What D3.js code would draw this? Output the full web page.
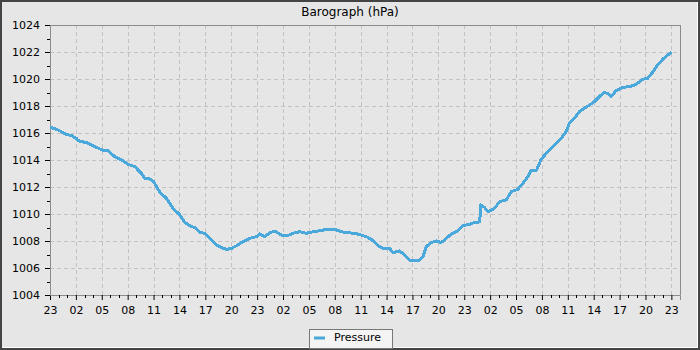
<!DOCTYPE html>
<html>
<head>
<meta charset="utf-8">
<script src="https://cdn.jsdelivr.net/npm/d3@7"></script>
<style>
  body { margin: 0; background: #e6e6e6; }
  svg { display: block; font-family: "DejaVu Sans", sans-serif; }
</style>
</head>
<body>
<div id="chart"></div>
<script>
// hours after the first 23:00 and pressure
const hoursFromStart = [0, 0.96, 1.74, 2.5, 3.05, 3.29, 4.44, 5.2, 6.06, 6.75, 7.5, 8.3, 9.06, 9.84,
  10.6, 11.0, 11.55, 12.0, 12.35, 12.74, 13.5, 14.27, 15.05, 15.63, 16.2, 16.79, 17.36, 17.94,
  18.53, 19.29, 19.88, 20.45, 21.03, 21.6, 22.38, 23.15, 23.93, 24.3, 24.89, 25.47, 26.04, 26.81,
  27.39, 28.16, 28.94, 29.7, 30.48, 31.25, 32.03, 32.99, 33.75, 34.52, 35.3, 36.08, 36.65, 37.23,
  37.62, 38.19, 38.78, 39.35, 39.74, 40.5, 41.09, 41.67, 42.24, 42.83, 43.22, 43.59, 44.18, 44.76,
  45.33, 45.92, 46.5, 47.25, 47.84, 48.62, 49.19, 49.58, 49.8, 49.9, 50.34, 50.73, 51.51, 52.08,
  52.86, 53.45, 54.21, 54.78, 55.37, 55.76, 56.34, 56.91, 57.68, 58.46, 59.24, 59.81, 60.18, 60.77,
  61.35, 61.92, 62.51, 63.08, 63.66, 64.16, 64.62, 65.01, 65.58, 66.36, 67.13, 67.91, 68.67, 69.26,
  69.83, 70.41, 71.0, 71.57, 72.03];
const pressure = [1016.44, 1016.22, 1015.93, 1015.8, 1015.6, 1015.43, 1015.24, 1014.99, 1014.74, 1014.67,
  1014.25, 1014.0, 1013.68, 1013.5, 1013.0, 1012.64, 1012.59, 1012.4, 1012.02, 1011.6, 1011.16,
  1010.42, 1009.93, 1009.38, 1009.13, 1008.99, 1008.64, 1008.57, 1008.2, 1007.7, 1007.5, 1007.38,
  1007.45, 1007.65, 1007.95, 1008.2, 1008.32, 1008.52, 1008.32, 1008.61, 1008.74, 1008.44, 1008.37,
  1008.57, 1008.69, 1008.57, 1008.69, 1008.76, 1008.86, 1008.86, 1008.69, 1008.61, 1008.57, 1008.44,
  1008.32, 1008.12, 1007.9, 1007.58, 1007.41, 1007.46, 1007.14, 1007.26, 1006.96, 1006.59, 1006.59,
  1006.59, 1006.84, 1007.58, 1007.88, 1008.0, 1007.88, 1008.2, 1008.52, 1008.76, 1009.13, 1009.24,
  1009.38, 1009.36, 1009.43, 1010.67, 1010.5, 1010.17, 1010.42, 1010.91, 1011.04, 1011.65, 1011.83,
  1012.27, 1012.77, 1013.26, 1013.21, 1014.05, 1014.61, 1015.11, 1015.6, 1016.1, 1016.72, 1017.09,
  1017.58, 1017.83, 1018.07, 1018.32, 1018.69, 1018.99, 1018.94, 1018.69, 1019.13, 1019.38, 1019.43,
  1019.6, 1019.98, 1020.05, 1020.5, 1021.04, 1021.46, 1021.78, 1021.98];
const yTicks = [1004, 1006, 1008, 1010, 1012, 1014, 1016, 1018, 1020, 1022, 1024];
const titleText = "Barograph (hPa)";
const seriesName = "Pressure";

const width = 700, height = 350;
const marginTop = 25, marginRight = 20, marginBottom = 55, marginLeft = 50;
const lineColor = "#4ba8db";

const start = new Date(2024, 0, 1, 23, 0, 0);
const end = d3.timeHour.offset(start, 73);
const data = hoursFromStart.map((h, i) => ({date: new Date(+start + h * 3600e3), value: pressure[i]}));

const x = d3.scaleTime().domain([start, end]).range([marginLeft, width - marginRight]);
const y = d3.scaleLinear().domain([1004, 1024]).range([height - marginBottom, marginTop]);

const majorX = d3.timeHour.range(start, end, 3);
const minorX = d3.timeHour.range(start, end);
const minorY = d3.range(1005, 1024, 2);

const svg = d3.select("#chart").append("svg")
    .attr("width", width)
    .attr("height", height);

// frame with a little bevel
svg.append("rect").attr("width", width).attr("height", height).attr("fill", "#444");
svg.append("rect").attr("x", 2).attr("y", 2).attr("width", width - 4).attr("height", height - 4).attr("fill", "#fff");
svg.append("rect").attr("x", 2).attr("y", 2).attr("width", width - 5).attr("height", height - 5).attr("fill", "#e6e6e6");

// grid
const grid = svg.append("g")
    .attr("stroke", "#c2c2c2")
    .attr("stroke-dasharray", "4,3")
    .attr("shape-rendering", "crispEdges");
grid.selectAll(".gx").data(majorX.slice(1)).join("line")
    .attr("x1", d => Math.round(x(d)) + 0.5).attr("x2", d => Math.round(x(d)) + 0.5)
    .attr("y1", marginTop).attr("y2", height - marginBottom);
grid.selectAll(".gy").data(yTicks.slice(1)).join("line")
    .attr("y1", d => Math.round(y(d)) + 0.5).attr("y2", d => Math.round(y(d)) + 0.5)
    .attr("x1", marginLeft).attr("x2", width - marginRight);

// top and right edges of the plot
svg.append("path")
    .attr("d", `M${marginLeft},${marginTop + 0.5}H${width - marginRight + 0.5}V${height - marginBottom}`)
    .attr("fill", "none")
    .attr("stroke", "#8c8c8c")
    .attr("shape-rendering", "crispEdges");

// x axis
const xAxis = svg.append("g")
    .attr("transform", `translate(0,${height - marginBottom})`)
    .call(d3.axisBottom(x).tickValues(majorX).tickFormat(d3.timeFormat("%H")).tickSizeOuter(0).tickSize(5).tickPadding(6));
xAxis.select(".domain").attr("stroke", "#8c8c8c");
xAxis.selectAll("text").attr("font-size", 11).attr("fill", "#000").attr("font-family", "DejaVu Sans");
xAxis.selectAll(".minor").data(minorX.filter((d, i) => i % 3)).join("line")
    .attr("class", "minor")
    .attr("x1", d => Math.round(x(d)) + 0.5).attr("x2", d => Math.round(x(d)) + 0.5)
    .attr("y1", 0).attr("y2", 3)
    .attr("stroke", "#000");

// y axis
const yAxis = svg.append("g")
    .attr("transform", `translate(${marginLeft},0)`)
    .call(d3.axisLeft(y).tickValues(yTicks).tickFormat(d3.format("d")).tickSizeOuter(0).tickSize(5).tickPadding(5));
yAxis.select(".domain").attr("stroke", "#8c8c8c");
yAxis.selectAll("text").attr("font-size", 11).attr("fill", "#000").attr("font-family", "DejaVu Sans");
yAxis.selectAll(".minor").data(minorY).join("line")
    .attr("class", "minor")
    .attr("y1", d => Math.round(y(d)) + 0.5).attr("y2", d => Math.round(y(d)) + 0.5)
    .attr("x1", -3).attr("x2", 0)
    .attr("stroke", "#000");

// pressure trace, drawn without antialiasing like the original
const line = d3.line()
    .x(d => x(d.date))
    .y(d => y(d.value));
svg.append("path")
    .datum(data)
    .attr("fill", "none")
    .attr("stroke", lineColor)
    .attr("stroke-width", 3)
    .attr("stroke-linejoin", "round")
    .attr("shape-rendering", "crispEdges")
    .attr("d", line);

// title
svg.append("text")
    .attr("x", width / 2)
    .attr("y", 16)
    .attr("text-anchor", "middle")
    .attr("font-size", 12)
    .text(titleText);

// legend
const legend = svg.append("g").attr("transform", "translate(309,329)");
legend.append("rect")
    .attr("x", 0.5).attr("y", 0.5)
    .attr("width", 83).attr("height", 19)
    .attr("fill", "#f4f4f4")
    .attr("stroke", "#777");
legend.append("line")
    .attr("x1", 5).attr("x2", 16)
    .attr("y1", 9).attr("y2", 9)
    .attr("stroke", lineColor)
    .attr("stroke-width", 3);
legend.append("text")
    .attr("x", 25)
    .attr("y", 12)
    .attr("font-size", 11)
    .text(seriesName);
</script>
</body>
</html>
